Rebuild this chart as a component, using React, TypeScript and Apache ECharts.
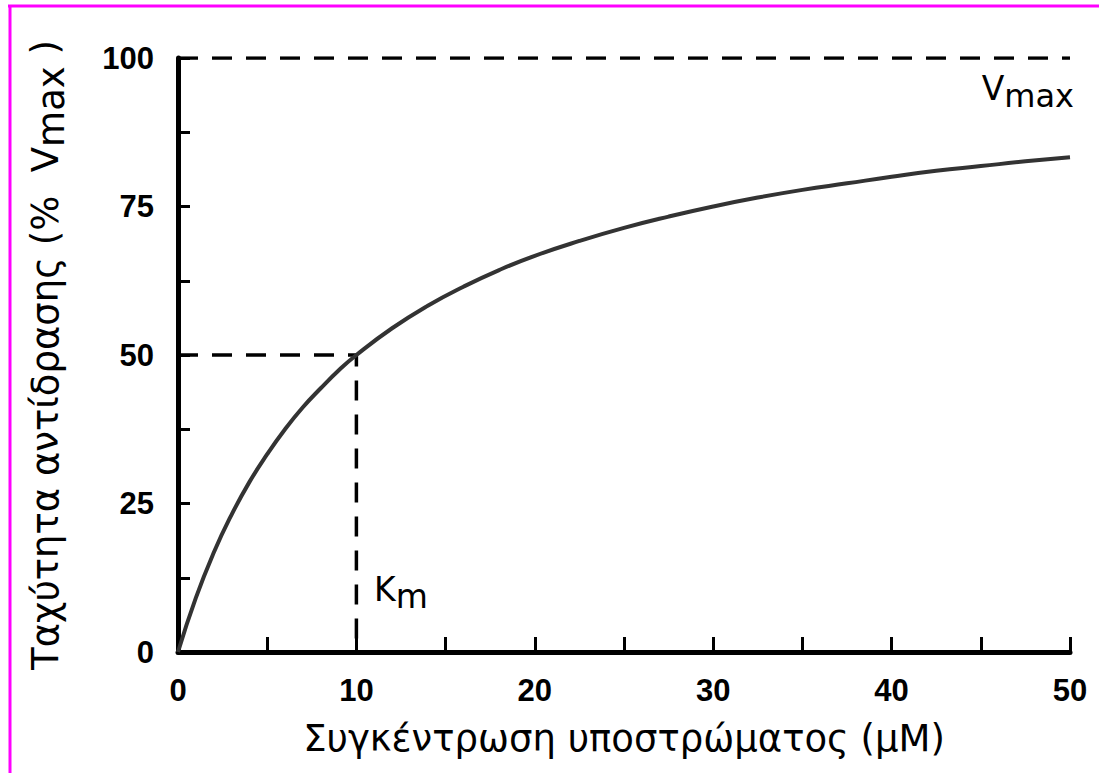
import React, { useEffect, useRef } from "react";
import * as echarts from "echarts";

const substrate = [0, 1, 2, 3, 4, 5, 6, 7, 8, 9, 10, 12, 14, 16, 18, 20, 22.5, 25, 27.5, 30, 32.5, 35, 37.5, 40, 42.5, 45, 47.5, 50];
const velocity = [0, 9.1, 16.7, 23.1, 28.6, 33.3, 37.5, 41.2, 44.4, 47.4, 50, 54.5, 58.3, 61.5, 64.3, 66.7, 69.2, 71.4, 73.3, 75, 76.5, 77.8, 78.9, 80, 81, 81.8, 82.6, 83.3];
const vmaxLine = [[0, 100], [50, 100]];
const kmLine = [[0, 50], [10, 50], [10, 0]];
const xTicks = { min: 0, max: 50, interval: 10 };
const yTicks = { min: 0, max: 100, interval: 25 };

const titleFont = "DejaVu Sans";
const tickFont = "Liberation Sans";

export default function App() {
  const ref = useRef<HTMLDivElement>(null);
  useEffect(() => {
    if (!ref.current) return;
    const chart = echarts.init(ref.current, null, { renderer: "svg" });
    const dashStyle = { color: "#000", width: 3.5, type: [20, 14] as any };
    chart.setOption({
      animation: false,
      backgroundColor: "#fff",
      grid: { left: 178, right: 29, top: 58, bottom: 121 },
      xAxis: {
        type: "value",
        min: xTicks.min,
        max: xTicks.max,
        interval: xTicks.interval,
        name: "Συγκέντρωση υποστρώματος (μΜ)",
        nameLocation: "middle",
        nameGap: 68,
        nameTextStyle: { fontFamily: titleFont, fontSize: 37, color: "#000" },
        axisLine: { lineStyle: { color: "#000", width: 5 } },
        axisTick: { inside: true, length: 15, lineStyle: { color: "#000", width: 3 } },
        minorTick: { show: true, splitNumber: 2, length: 15, lineStyle: { color: "#000", width: 3 } },
        axisLabel: { margin: 23, fontFamily: tickFont, fontWeight: "bold", fontSize: 31, color: "#000" },
        splitLine: { show: false },
      },
      yAxis: {
        type: "value",
        min: yTicks.min,
        max: yTicks.max,
        interval: yTicks.interval,
        name: "Ταχύτητα αντίδρασης (%  V{s|max} )",
        nameLocation: "middle",
        nameRotate: 90,
        nameGap: 108,
        nameTextStyle: {
          fontFamily: titleFont,
          fontSize: 37,
          color: "#000",
          rich: { s: { fontFamily: titleFont, fontSize: 37, color: "#000", verticalAlign: "bottom", padding: [12, 0, 0, 0] } },
        },
        axisLine: { show: true, lineStyle: { color: "#000", width: 5 } },
        axisTick: { show: true, inside: true, length: 12, lineStyle: { color: "#000", width: 3 } },
        minorTick: { show: true, splitNumber: 2, length: 12, lineStyle: { color: "#000", width: 3 } },
        axisLabel: { margin: 24, fontFamily: tickFont, fontWeight: "bold", fontSize: 31, color: "#000" },
        splitLine: { show: false },
      },
      series: [
        {
          type: "line",
          data: vmaxLine,
          symbol: "none",
          lineStyle: dashStyle,
          silent: true,
        },
        {
          type: "line",
          data: kmLine,
          symbol: "none",
          lineStyle: dashStyle,
          silent: true,
        },
        {
          type: "line",
          data: substrate.map((x, i) => [x, velocity[i]]),
          symbol: "none",
          smooth: true,
          lineStyle: { color: "#333", width: 4 },
          silent: true,
        },
      ],
      graphic: [
        { type: "line", shape: { x1: 8, y1: 6, x2: 1099, y2: 6 }, style: { stroke: "#ff00ff", lineWidth: 3 } },
        { type: "line", shape: { x1: 10, y1: 6, x2: 10, y2: 773 }, style: { stroke: "#ff00ff", lineWidth: 3 } },
        {
          type: "text",
          right: 25,
          top: 72,
          style: {
            text: "V{s|max}",
            font: `33px '${titleFont}'`,
            fill: "#000",
            rich: { s: { fontFamily: titleFont, fontSize: 32, fill: "#000", padding: [14, 0, 0, 0] } },
          },
        },
        {
          type: "text",
          left: 374,
          top: 573,
          style: {
            text: "K{s|m}",
            font: `33px '${titleFont}'`,
            fill: "#000",
            rich: { s: { fontFamily: titleFont, fontSize: 33, fill: "#000", padding: [14, 0, 0, 0] } },
          },
        },
      ],
    });
    return () => chart.dispose();
  }, []);
  return <div ref={ref} style={{ position: "absolute", left: 0, top: 0, width: 1099, height: 773, background: "#fff" }} />;
}
